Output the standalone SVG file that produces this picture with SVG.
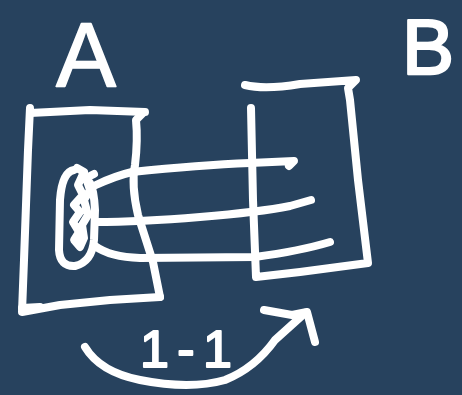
<svg xmlns="http://www.w3.org/2000/svg" width="462" height="395" viewBox="0 0 462 395">
<style>
.s{fill:none;stroke:#ffffff;stroke-width:8;stroke-linecap:round;stroke-linejoin:round}
.t{fill:#ffffff;stroke:#ffffff;stroke-linejoin:round;font-family:"Liberation Sans",Arial,sans-serif}
</style>
<rect width="462" height="395" fill="#27425E"/>
<g id="labelA"><text class="t" x="56" y="86" font-size="90" stroke-width="1.5">A</text></g>
<g id="labelB"><text class="t" x="402" y="74" font-size="78" stroke-width="2.5">B</text></g>
<g id="setA">
<path class="s" d="M30,108 L28,150 L24,260 L22,312 L60,305 L110,300 L160,297"/>
<path class="s" d="M30,113 L90,110 L145,112"/>
<path class="s" d="M143,113 L136,120 Q138,140 135,165 Q131,185 138,215 Q146,240 153,262 L160,297"/>
<path class="s" d="M22,308 L40,307" stroke-width="10"/>
</g>
<g id="setB">
<path class="s" d="M245,85 Q265,90 300,84 L356,80 L348,88 L350,100 L358,180 L368,263 L300,272 L256,277 L253,200 L251,108"/>
</g>
<g id="subset">
<path class="s" d="M74,170 Q62,172 60,200 L59,250 Q60,267 75,266 Q92,262 94,240 L95,210 Q94,190 90,183"/>
<path class="s" d="M77,168 L84,172 L78,185 L83,195 L74,205 L80,212 L73,222 L79,232 L74,240 L80,247 L84,238 L82,225 L88,215 L84,200 L90,190 L86,178 L94,174" stroke-width="6"/>
</g>
<g id="connectors">
<path class="s" d="M96,185 Q115,176 132,172 Q200,165 250,163 L294,161 L289,166"/>
<path class="s" d="M95,222 Q140,222 200,217 Q260,212 290,206 L311,200"/>
<path class="s" d="M95,246 Q110,257 140,258 L255,257 Q300,251 330,242"/>
<path class="s" d="M85,347 Q100,372 140,380 Q190,390 225,380 Q255,368 275,340 L305,313"/>
<path class="s" d="M264,310 L292,315 L307,312 L311,327 L315,342"/>
</g>
<g id="label11"><text class="t" x="140" y="367" font-size="52" stroke-width="2" textLength="92" lengthAdjust="spacing">1-1</text></g>
</svg>
